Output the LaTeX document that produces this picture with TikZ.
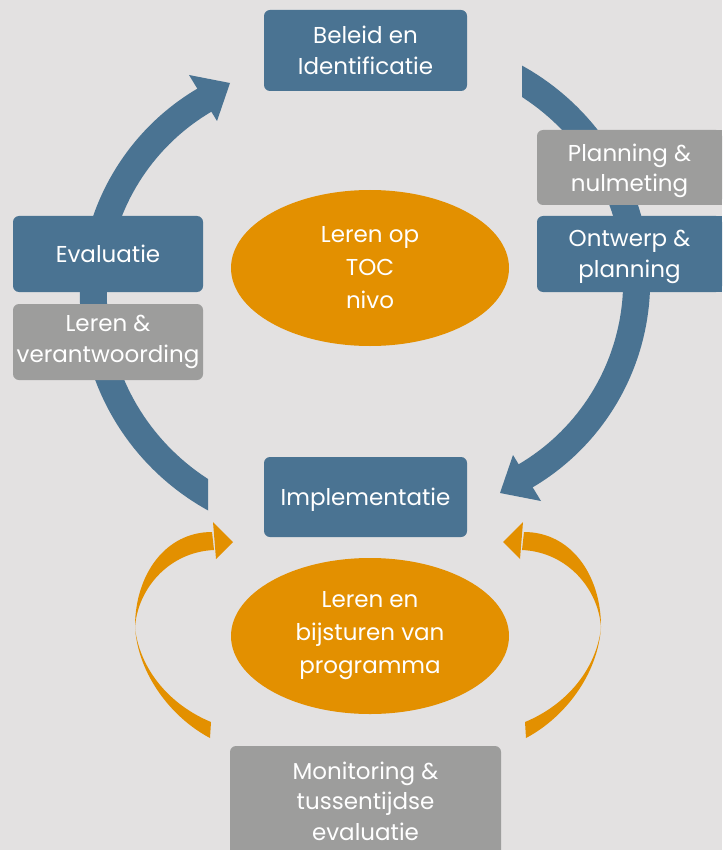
\documentclass[tikz,border=0pt]{standalone}
\usepackage{fontspec}
\setmainfont{Poppins}
\usetikzlibrary{shapes.geometric}

\definecolor{bg}{HTML}{E3E1E1}
\definecolor{steel}{HTML}{4A7392}
\definecolor{stone}{HTML}{9D9D9C}
\definecolor{amber}{HTML}{E39000}

\tikzset{
  label text/.style={text=white, align=center, font=\fontsize{23}{30.5}\selectfont, inner sep=0pt},
  bluebox/.style={label text, fill=steel, rounded corners=6},
  graybox/.style={label text, fill=stone, rounded corners=6},
  oval/.style={label text, ellipse, fill=amber, minimum width=278, minimum height=156,
               font=\fontsize{23}{33}\selectfont},
}

% radius of the blue loop, widening slightly towards its tail
\def\looprad#1{(218+15*((240-#1)/123)^2)}

% thick blue loop arc with its arrow head (left half of the cycle)
\newcommand\loopband{%
  \begin{scope}
    \clip (0,0) -- (320,0) -- (320,470) -- (208,470) -- (208,850) -- (0,850) -- cycle;
    \draw[steel, line width=27] plot[domain=108:241.5, samples=80, variable=\t]
      ({315+\looprad{\t}*cos(\t)}, {288+\looprad{\t}*sin(\t)});
  \end{scope}
  \fill[steel] (189,75) -- (230,83) -- (217,121) -- cycle;
}

% tapered orange return arrow (left side of the lower loop)
\newcommand\turnarrow{%
  \fill[amber] (212,532) .. controls (165,532) and (135,575) .. (135,627)
               .. controls (138,675) and (172,718) .. (210,738) -- (211,722)
               .. controls (170,705) and (140,670) .. (135,628)
               .. controls (137,590) and (168,552) .. (214,550) -- cycle;
  \fill[amber] (213,522) -- (233,542) -- (216,559) -- cycle;
}

\begin{document}
\begin{tikzpicture}[x=1pt, y=-1pt]
  \useasboundingbox (0,0) rectangle (722,850);
  \fill[bg] (0,0) rectangle (722,850);

  % outer cycle
  \loopband
  \begin{scope}[rotate around={180:(365,288)}]
    \loopband
  \end{scope}

  % boxes on the outer cycle
  \node[bluebox, minimum width=203, minimum height=81] (beleid) at (365.5,50.5) {Beleid en\\Identificatie};
  \node[bluebox, minimum width=190, minimum height=76] (evaluatie) at (108,254) {Evaluatie};
  \node[graybox, minimum width=190, minimum height=76] (verantw) at (108,342) {Leren \&\\verantwoording};
  \fill[stone] (700,130) rectangle (722,205);
  \node[graybox, minimum width=185, minimum height=75, text depth=0pt] (planning) at (629.5,167.5) {Planning \&\\nulmeting};
  \fill[steel] (700,216) rectangle (722,292);
  \node[bluebox, minimum width=185, minimum height=76, text depth=0pt] (ontwerp) at (629.5,254) {Ontwerp \&\\planning};
  \node[bluebox, minimum width=203, minimum height=80, text depth=0pt] (impl) at (365.5,497) {Implementatie};
  \node[graybox, minimum width=271, minimum height=110] (monitor) at (365.5,801) {Monitoring \&\\tussentijdse\\evaluatie};

  % learning ovals
  \node[oval] (toc) at (370,268) {Leren op\\TOC\\nivo};
  \node[oval] (bijsturen) at (370,636) {Leren en\\bijsturen van\\programma};

  % inner feedback loop
  \turnarrow
  \begin{scope}[shift={(736,0)}, xscale=-1]
    \turnarrow
  \end{scope}
\end{tikzpicture}
\end{document}
